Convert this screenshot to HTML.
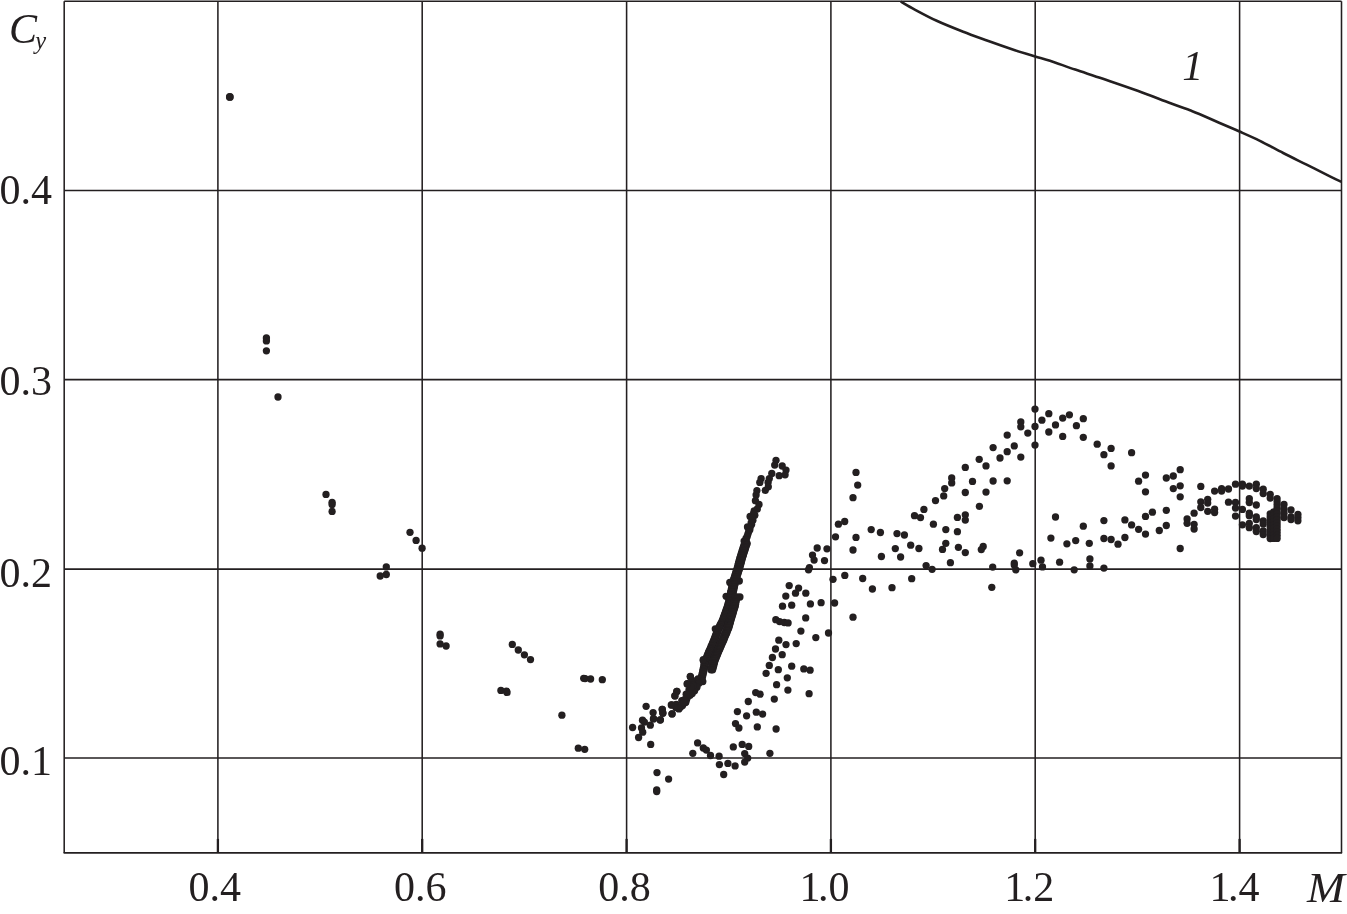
<!DOCTYPE html>
<html lang="en"><head><meta charset="utf-8"><title>Cy vs M</title>
<style>html,body{margin:0;padding:0;background:#fff}svg{display:block}</style></head>
<body>
<svg width="1347" height="914" viewBox="0 0 1347 914">
<rect width="1347" height="914" fill="#fff"/>
<g stroke="#231f20" stroke-width="1.55" fill="none">
<line x1="217.9" y1="1.2" x2="217.9" y2="852.9"/>
<line x1="422.2" y1="1.2" x2="422.2" y2="852.9"/>
<line x1="626.6" y1="1.2" x2="626.6" y2="852.9"/>
<line x1="830.9" y1="1.2" x2="830.9" y2="852.9"/>
<line x1="1035.2" y1="1.2" x2="1035.2" y2="852.9"/>
<line x1="1239.6" y1="1.2" x2="1239.6" y2="852.9"/>
<line x1="64.2" y1="190.4" x2="1341.5" y2="190.4"/>
<line x1="64.2" y1="379.6" x2="1341.5" y2="379.6"/>
<line x1="64.2" y1="569.1" x2="1341.5" y2="569.1"/>
<line x1="64.2" y1="757.9" x2="1341.5" y2="757.9"/>
<line x1="64.2" y1="1.2" x2="64.2" y2="852.9"/><line x1="1341.5" y1="1.2" x2="1341.5" y2="852.9"/><line x1="64.2" y1="1.2" x2="1341.5" y2="1.2"/>
</g>
<line x1="63.6" y1="852.9" x2="1342.1" y2="852.9" stroke="#231f20" stroke-width="1.9"/>
<g stroke="#231f20" stroke-width="2.3">
<line x1="217.9" y1="838.9" x2="217.9" y2="852.9"/>
<line x1="422.2" y1="838.9" x2="422.2" y2="852.9"/>
<line x1="626.6" y1="838.9" x2="626.6" y2="852.9"/>
<line x1="830.9" y1="838.9" x2="830.9" y2="852.9"/>
<line x1="1035.2" y1="838.9" x2="1035.2" y2="852.9"/>
<line x1="1239.6" y1="838.9" x2="1239.6" y2="852.9"/>
</g>
<path d="M900.7 1.5 C903.1 2.9 909.2 6.6 915.2 9.8 C921.2 13.0 928.7 17.1 936.7 20.8 C944.7 24.5 954.6 28.4 963.2 31.8 C971.8 35.2 979.8 37.9 988.4 41.0 C997.0 44.1 1007.1 47.6 1014.9 50.2 C1022.7 52.8 1029.2 54.6 1035.1 56.4 C1040.9 58.1 1043.3 58.5 1050.0 60.7 C1056.7 62.9 1066.4 66.6 1075.2 69.6 C1084.0 72.6 1092.5 75.2 1103.0 78.8 C1113.5 82.4 1127.1 87.0 1138.3 91.0 C1149.5 95.0 1161.3 99.8 1169.9 103.0 C1178.5 106.2 1185.1 108.5 1190.0 110.3 C1194.9 112.1 1194.5 111.9 1199.3 114.0 C1204.1 116.1 1212.4 119.8 1219.1 122.7 C1225.8 125.6 1232.7 128.5 1239.5 131.5 C1246.3 134.5 1252.6 137.2 1259.9 140.8 C1267.2 144.4 1275.4 149.0 1283.2 153.0 C1291.0 157.0 1298.8 160.8 1306.6 164.7 C1314.4 168.6 1324.1 173.4 1329.9 176.3 C1335.7 179.2 1339.6 181.0 1341.5 181.9" fill="none" stroke="#231f20" stroke-width="2.6" stroke-linecap="butt"/>
<g fill="#231f20">
<circle cx="229.8" cy="97.0" r="3.65"/>
<circle cx="266.4" cy="337.9" r="3.65"/>
<circle cx="266.4" cy="340.9" r="3.65"/>
<circle cx="266.4" cy="350.8" r="3.65"/>
<circle cx="278.0" cy="397.0" r="3.65"/>
<circle cx="326.0" cy="494.4" r="3.65"/>
<circle cx="332.1" cy="502.3" r="3.65"/>
<circle cx="332.1" cy="504.5" r="3.65"/>
<circle cx="332.1" cy="511.4" r="3.65"/>
<circle cx="410.0" cy="532.3" r="3.65"/>
<circle cx="416.1" cy="540.4" r="3.65"/>
<circle cx="422.1" cy="548.2" r="3.65"/>
<circle cx="386.3" cy="566.9" r="3.65"/>
<circle cx="386.3" cy="574.5" r="3.65"/>
<circle cx="380.2" cy="576.0" r="3.65"/>
<circle cx="440.1" cy="634.1" r="3.65"/>
<circle cx="440.1" cy="635.9" r="3.65"/>
<circle cx="440.1" cy="643.9" r="3.65"/>
<circle cx="446.1" cy="646.0" r="3.65"/>
<circle cx="512.3" cy="644.4" r="3.65"/>
<circle cx="518.3" cy="650.0" r="3.65"/>
<circle cx="524.4" cy="654.8" r="3.65"/>
<circle cx="530.5" cy="659.6" r="3.65"/>
<circle cx="500.9" cy="690.4" r="3.65"/>
<circle cx="506.5" cy="691.2" r="3.65"/>
<circle cx="507.0" cy="692.4" r="3.65"/>
<circle cx="583.7" cy="678.3" r="3.65"/>
<circle cx="585.1" cy="678.6" r="3.65"/>
<circle cx="590.6" cy="679.0" r="3.65"/>
<circle cx="602.3" cy="679.7" r="3.65"/>
<circle cx="561.9" cy="715.2" r="3.65"/>
<circle cx="578.3" cy="748.2" r="3.65"/>
<circle cx="584.7" cy="749.3" r="3.65"/>
<circle cx="646.1" cy="706.3" r="3.65"/>
<circle cx="653.1" cy="712.6" r="3.65"/>
<circle cx="662.3" cy="709.5" r="3.65"/>
<circle cx="662.9" cy="713.3" r="3.65"/>
<circle cx="653.4" cy="718.9" r="3.65"/>
<circle cx="660.4" cy="719.8" r="3.65"/>
<circle cx="642.5" cy="720.2" r="3.65"/>
<circle cx="644.4" cy="722.1" r="3.65"/>
<circle cx="650.3" cy="725.2" r="3.65"/>
<circle cx="632.6" cy="727.5" r="3.65"/>
<circle cx="641.5" cy="728.0" r="3.65"/>
<circle cx="642.7" cy="732.2" r="3.65"/>
<circle cx="638.6" cy="737.5" r="3.65"/>
<circle cx="650.7" cy="744.4" r="3.65"/>
<circle cx="671.7" cy="705.0" r="3.65"/>
<circle cx="672.1" cy="713.9" r="3.65"/>
<circle cx="678.7" cy="708.2" r="3.65"/>
<circle cx="676.2" cy="704.4" r="3.65"/>
<circle cx="685.0" cy="702.5" r="3.65"/>
<circle cx="681.8" cy="700.6" r="3.65"/>
<circle cx="657.0" cy="772.6" r="3.65"/>
<circle cx="668.6" cy="779.1" r="3.65"/>
<circle cx="656.7" cy="789.9" r="3.65"/>
<circle cx="656.7" cy="791.5" r="3.65"/>
<circle cx="697.6" cy="742.9" r="3.65"/>
<circle cx="692.8" cy="753.3" r="3.65"/>
<circle cx="703.3" cy="748.0" r="3.65"/>
<circle cx="706.4" cy="750.1" r="3.65"/>
<circle cx="710.5" cy="755.5" r="3.65"/>
<circle cx="719.1" cy="756.2" r="3.65"/>
<circle cx="719.4" cy="764.6" r="3.65"/>
<circle cx="727.9" cy="763.4" r="3.65"/>
<circle cx="723.7" cy="774.5" r="3.65"/>
<circle cx="735.1" cy="765.9" r="3.65"/>
<circle cx="733.3" cy="746.9" r="3.65"/>
<circle cx="742.2" cy="744.4" r="3.65"/>
<circle cx="748.7" cy="746.4" r="3.65"/>
<circle cx="744.7" cy="753.6" r="3.65"/>
<circle cx="747.7" cy="758.1" r="3.65"/>
<circle cx="744.7" cy="762.1" r="3.65"/>
<circle cx="769.9" cy="753.3" r="3.65"/>
<circle cx="748.3" cy="701.5" r="3.65"/>
<circle cx="737.4" cy="711.6" r="3.65"/>
<circle cx="746.6" cy="715.8" r="3.65"/>
<circle cx="756.3" cy="712.2" r="3.65"/>
<circle cx="762.6" cy="714.1" r="3.65"/>
<circle cx="735.5" cy="723.6" r="3.65"/>
<circle cx="738.9" cy="728.0" r="3.65"/>
<circle cx="757.3" cy="726.9" r="3.65"/>
<circle cx="776.1" cy="729.0" r="3.65"/>
<circle cx="676.8" cy="691.3" r="3.65"/>
<circle cx="674.9" cy="695.7" r="3.65"/>
<circle cx="687.5" cy="683.7" r="3.65"/>
<circle cx="690.4" cy="676.8" r="3.65"/>
<circle cx="703.3" cy="660.4" r="3.65"/>
<circle cx="715.3" cy="628.8" r="3.65"/>
<circle cx="739.3" cy="581.0" r="3.65"/>
<circle cx="739.9" cy="597.0" r="3.65"/>
<circle cx="729.8" cy="582.5" r="3.65"/>
<circle cx="726.1" cy="596.3" r="3.65"/>
<circle cx="778.8" cy="640.2" r="3.65"/>
<circle cx="786.0" cy="644.6" r="3.65"/>
<circle cx="775.5" cy="649.0" r="3.65"/>
<circle cx="782.2" cy="654.7" r="3.65"/>
<circle cx="772.4" cy="657.5" r="3.65"/>
<circle cx="769.3" cy="665.4" r="3.65"/>
<circle cx="778.3" cy="669.7" r="3.65"/>
<circle cx="766.1" cy="673.3" r="3.65"/>
<circle cx="787.3" cy="677.8" r="3.65"/>
<circle cx="776.6" cy="684.7" r="3.65"/>
<circle cx="787.9" cy="690.1" r="3.65"/>
<circle cx="755.7" cy="692.6" r="3.65"/>
<circle cx="760.1" cy="694.2" r="3.65"/>
<circle cx="774.3" cy="699.1" r="3.65"/>
<circle cx="838.4" cy="524.2" r="3.65"/>
<circle cx="844.7" cy="521.5" r="3.65"/>
<circle cx="835.5" cy="536.8" r="3.65"/>
<circle cx="817.2" cy="548.0" r="3.65"/>
<circle cx="827.0" cy="548.8" r="3.65"/>
<circle cx="812.5" cy="555.1" r="3.65"/>
<circle cx="814.1" cy="560.1" r="3.65"/>
<circle cx="824.5" cy="560.6" r="3.65"/>
<circle cx="809.4" cy="567.7" r="3.65"/>
<circle cx="808.5" cy="569.8" r="3.65"/>
<circle cx="844.8" cy="575.4" r="3.65"/>
<circle cx="833.0" cy="579.3" r="3.65"/>
<circle cx="789.2" cy="585.6" r="3.65"/>
<circle cx="798.6" cy="588.1" r="3.65"/>
<circle cx="795.5" cy="593.2" r="3.65"/>
<circle cx="805.8" cy="593.2" r="3.65"/>
<circle cx="785.8" cy="596.1" r="3.65"/>
<circle cx="810.4" cy="603.9" r="3.65"/>
<circle cx="821.1" cy="602.7" r="3.65"/>
<circle cx="834.6" cy="603.0" r="3.65"/>
<circle cx="782.5" cy="606.2" r="3.65"/>
<circle cx="791.7" cy="605.2" r="3.65"/>
<circle cx="805.7" cy="617.9" r="3.65"/>
<circle cx="853.0" cy="617.2" r="3.65"/>
<circle cx="775.8" cy="619.7" r="3.65"/>
<circle cx="779.6" cy="621.6" r="3.65"/>
<circle cx="784.3" cy="622.5" r="3.65"/>
<circle cx="788.1" cy="622.9" r="3.65"/>
<circle cx="800.9" cy="631.1" r="3.65"/>
<circle cx="828.5" cy="633.0" r="3.65"/>
<circle cx="815.8" cy="637.6" r="3.65"/>
<circle cx="796.2" cy="643.6" r="3.65"/>
<circle cx="791.7" cy="666.2" r="3.65"/>
<circle cx="803.8" cy="668.9" r="3.65"/>
<circle cx="810.1" cy="670.2" r="3.65"/>
<circle cx="809.1" cy="693.7" r="3.65"/>
<circle cx="776.0" cy="460.3" r="3.65"/>
<circle cx="774.7" cy="465.1" r="3.65"/>
<circle cx="782.2" cy="466.0" r="3.65"/>
<circle cx="786.0" cy="470.1" r="3.65"/>
<circle cx="785.1" cy="474.8" r="3.65"/>
<circle cx="779.2" cy="475.7" r="3.65"/>
<circle cx="771.8" cy="473.5" r="3.65"/>
<circle cx="769.3" cy="478.6" r="3.65"/>
<circle cx="768.1" cy="482.4" r="3.65"/>
<circle cx="768.3" cy="486.8" r="3.65"/>
<circle cx="765.3" cy="490.3" r="3.65"/>
<circle cx="761.1" cy="478.6" r="3.65"/>
<circle cx="759.8" cy="482.4" r="3.65"/>
<circle cx="756.9" cy="490.6" r="3.65"/>
<circle cx="756.1" cy="495.0" r="3.65"/>
<circle cx="755.4" cy="500.7" r="3.65"/>
<circle cx="759.0" cy="504.5" r="3.65"/>
<circle cx="757.3" cy="508.9" r="3.65"/>
<circle cx="754.2" cy="510.8" r="3.65"/>
<circle cx="754.8" cy="515.2" r="3.65"/>
<circle cx="750.1" cy="516.4" r="3.65"/>
<circle cx="752.9" cy="520.2" r="3.65"/>
<circle cx="751.6" cy="524.6" r="3.65"/>
<circle cx="747.5" cy="526.9" r="3.65"/>
<circle cx="749.8" cy="529.7" r="3.65"/>
<circle cx="747.9" cy="534.1" r="3.65"/>
<circle cx="746.0" cy="538.5" r="3.65"/>
<circle cx="744.1" cy="541.1" r="3.65"/>
<circle cx="745.3" cy="543.6" r="3.65"/>
<circle cx="753.6" cy="513.5" r="3.65"/>
<circle cx="752.4" cy="518.2" r="3.65"/>
<circle cx="751.2" cy="522.6" r="3.65"/>
<circle cx="750.0" cy="527.3" r="3.65"/>
<circle cx="748.6" cy="531.8" r="3.65"/>
<circle cx="747.2" cy="536.4" r="3.65"/>
<circle cx="746.2" cy="540.2" r="3.65"/>
<circle cx="856.0" cy="472.4" r="3.65"/>
<circle cx="857.7" cy="485.1" r="3.65"/>
<circle cx="853.0" cy="497.7" r="3.65"/>
<circle cx="856.0" cy="537.4" r="3.65"/>
<circle cx="853.0" cy="550.0" r="3.65"/>
<circle cx="871.2" cy="529.6" r="3.65"/>
<circle cx="880.4" cy="532.5" r="3.65"/>
<circle cx="897.0" cy="533.6" r="3.65"/>
<circle cx="904.4" cy="535.0" r="3.65"/>
<circle cx="895.3" cy="548.6" r="3.65"/>
<circle cx="910.7" cy="545.2" r="3.65"/>
<circle cx="918.9" cy="548.5" r="3.65"/>
<circle cx="881.4" cy="556.5" r="3.65"/>
<circle cx="900.6" cy="557.0" r="3.65"/>
<circle cx="914.5" cy="515.7" r="3.65"/>
<circle cx="920.5" cy="517.6" r="3.65"/>
<circle cx="923.9" cy="509.4" r="3.65"/>
<circle cx="933.4" cy="524.2" r="3.65"/>
<circle cx="935.5" cy="500.6" r="3.65"/>
<circle cx="943.7" cy="495.9" r="3.65"/>
<circle cx="944.7" cy="488.6" r="3.65"/>
<circle cx="951.7" cy="477.9" r="3.65"/>
<circle cx="951.7" cy="482.9" r="3.65"/>
<circle cx="965.3" cy="467.4" r="3.65"/>
<circle cx="972.5" cy="481.4" r="3.65"/>
<circle cx="965.3" cy="492.5" r="3.65"/>
<circle cx="979.2" cy="459.3" r="3.65"/>
<circle cx="986.0" cy="465.9" r="3.65"/>
<circle cx="993.1" cy="447.6" r="3.65"/>
<circle cx="1000.0" cy="458.0" r="3.65"/>
<circle cx="1007.2" cy="451.7" r="3.65"/>
<circle cx="993.1" cy="481.0" r="3.65"/>
<circle cx="1007.2" cy="480.8" r="3.65"/>
<circle cx="986.0" cy="492.1" r="3.65"/>
<circle cx="979.4" cy="506.3" r="3.65"/>
<circle cx="965.3" cy="514.8" r="3.65"/>
<circle cx="965.3" cy="520.1" r="3.65"/>
<circle cx="957.4" cy="517.4" r="3.65"/>
<circle cx="945.8" cy="529.6" r="3.65"/>
<circle cx="957.4" cy="531.7" r="3.65"/>
<circle cx="945.8" cy="543.3" r="3.65"/>
<circle cx="942.5" cy="549.4" r="3.65"/>
<circle cx="958.4" cy="547.3" r="3.65"/>
<circle cx="965.3" cy="552.6" r="3.65"/>
<circle cx="983.2" cy="546.4" r="3.65"/>
<circle cx="981.3" cy="549.6" r="3.65"/>
<circle cx="950.4" cy="562.7" r="3.65"/>
<circle cx="926.1" cy="565.6" r="3.65"/>
<circle cx="932.1" cy="569.3" r="3.65"/>
<circle cx="992.7" cy="567.1" r="3.65"/>
<circle cx="862.7" cy="578.5" r="3.65"/>
<circle cx="872.4" cy="589.0" r="3.65"/>
<circle cx="892.0" cy="587.7" r="3.65"/>
<circle cx="911.7" cy="578.7" r="3.65"/>
<circle cx="991.8" cy="587.3" r="3.65"/>
<circle cx="1035.0" cy="409.1" r="3.65"/>
<circle cx="1035.0" cy="426.5" r="3.65"/>
<circle cx="1035.0" cy="445.1" r="3.65"/>
<circle cx="1048.8" cy="413.7" r="3.65"/>
<circle cx="1041.9" cy="420.2" r="3.65"/>
<circle cx="1020.8" cy="421.9" r="3.65"/>
<circle cx="1020.8" cy="426.8" r="3.65"/>
<circle cx="1027.8" cy="433.1" r="3.65"/>
<circle cx="1007.2" cy="435.1" r="3.65"/>
<circle cx="1014.3" cy="445.9" r="3.65"/>
<circle cx="1020.8" cy="457.1" r="3.65"/>
<circle cx="1055.5" cy="424.9" r="3.65"/>
<circle cx="1048.8" cy="432.0" r="3.65"/>
<circle cx="1062.7" cy="418.1" r="3.65"/>
<circle cx="1069.4" cy="414.8" r="3.65"/>
<circle cx="1062.7" cy="436.4" r="3.65"/>
<circle cx="1076.4" cy="425.7" r="3.65"/>
<circle cx="1083.3" cy="418.7" r="3.65"/>
<circle cx="1083.3" cy="437.3" r="3.65"/>
<circle cx="1097.2" cy="444.2" r="3.65"/>
<circle cx="1111.1" cy="448.4" r="3.65"/>
<circle cx="1103.9" cy="454.7" r="3.65"/>
<circle cx="1111.1" cy="465.9" r="3.65"/>
<circle cx="1131.6" cy="452.7" r="3.65"/>
<circle cx="1145.5" cy="475.1" r="3.65"/>
<circle cx="1138.6" cy="481.2" r="3.65"/>
<circle cx="1145.5" cy="491.8" r="3.65"/>
<circle cx="1166.3" cy="478.0" r="3.65"/>
<circle cx="1173.3" cy="476.0" r="3.65"/>
<circle cx="1173.3" cy="488.6" r="3.65"/>
<circle cx="1055.5" cy="517.0" r="3.65"/>
<circle cx="1050.9" cy="538.1" r="3.65"/>
<circle cx="1019.6" cy="552.8" r="3.65"/>
<circle cx="1014.3" cy="563.1" r="3.65"/>
<circle cx="1014.3" cy="565.0" r="3.65"/>
<circle cx="1015.8" cy="569.8" r="3.65"/>
<circle cx="1032.8" cy="563.7" r="3.65"/>
<circle cx="1041.0" cy="560.2" r="3.65"/>
<circle cx="1042.5" cy="566.9" r="3.65"/>
<circle cx="1059.6" cy="562.2" r="3.65"/>
<circle cx="1074.2" cy="569.8" r="3.65"/>
<circle cx="1089.9" cy="558.9" r="3.65"/>
<circle cx="1089.9" cy="565.9" r="3.65"/>
<circle cx="1103.9" cy="568.1" r="3.65"/>
<circle cx="1066.9" cy="543.8" r="3.65"/>
<circle cx="1075.7" cy="540.6" r="3.65"/>
<circle cx="1083.3" cy="526.2" r="3.65"/>
<circle cx="1089.3" cy="543.3" r="3.65"/>
<circle cx="1103.9" cy="520.6" r="3.65"/>
<circle cx="1103.9" cy="538.5" r="3.65"/>
<circle cx="1111.1" cy="539.5" r="3.65"/>
<circle cx="1118.0" cy="544.2" r="3.65"/>
<circle cx="1124.9" cy="537.5" r="3.65"/>
<circle cx="1124.9" cy="519.9" r="3.65"/>
<circle cx="1131.6" cy="524.9" r="3.65"/>
<circle cx="1138.6" cy="529.3" r="3.65"/>
<circle cx="1145.5" cy="534.1" r="3.65"/>
<circle cx="1145.5" cy="516.4" r="3.65"/>
<circle cx="1152.4" cy="512.2" r="3.65"/>
<circle cx="1159.3" cy="530.5" r="3.65"/>
<circle cx="1166.3" cy="510.3" r="3.65"/>
<circle cx="1166.3" cy="525.5" r="3.65"/>
<circle cx="1180.2" cy="469.7" r="3.65"/>
<circle cx="1180.2" cy="485.8" r="3.65"/>
<circle cx="1180.2" cy="496.8" r="3.65"/>
<circle cx="1180.2" cy="548.5" r="3.65"/>
<circle cx="1187.1" cy="518.9" r="3.65"/>
<circle cx="1187.1" cy="523.3" r="3.65"/>
<circle cx="1194.1" cy="513.2" r="3.65"/>
<circle cx="1194.1" cy="524.3" r="3.65"/>
<circle cx="1194.1" cy="529.0" r="3.65"/>
<circle cx="1200.8" cy="486.4" r="3.65"/>
<circle cx="1200.8" cy="501.8" r="3.65"/>
<circle cx="1200.8" cy="507.5" r="3.65"/>
<circle cx="1207.7" cy="499.3" r="3.65"/>
<circle cx="1207.7" cy="503.1" r="3.65"/>
<circle cx="1207.7" cy="511.3" r="3.65"/>
<circle cx="1214.6" cy="491.1" r="3.65"/>
<circle cx="1214.6" cy="509.2" r="3.65"/>
<circle cx="1214.6" cy="512.6" r="3.65"/>
<circle cx="1221.6" cy="488.6" r="3.65"/>
<circle cx="1221.6" cy="491.1" r="3.65"/>
<circle cx="1228.5" cy="489.0" r="3.65"/>
<circle cx="1228.5" cy="502.2" r="3.65"/>
<circle cx="1235.5" cy="484.2" r="3.65"/>
<circle cx="1235.5" cy="502.5" r="3.65"/>
<circle cx="1235.5" cy="508.1" r="3.65"/>
<circle cx="1235.5" cy="516.1" r="3.65"/>
<circle cx="1242.4" cy="484.2" r="3.65"/>
<circle cx="1242.4" cy="486.0" r="3.65"/>
<circle cx="1242.4" cy="509.4" r="3.65"/>
<circle cx="1242.4" cy="524.8" r="3.65"/>
<circle cx="1249.3" cy="486.1" r="3.65"/>
<circle cx="1249.3" cy="498.7" r="3.65"/>
<circle cx="1249.3" cy="502.5" r="3.65"/>
<circle cx="1249.3" cy="513.2" r="3.65"/>
<circle cx="1249.3" cy="515.7" r="3.65"/>
<circle cx="1249.3" cy="523.3" r="3.65"/>
<circle cx="1249.3" cy="527.7" r="3.65"/>
<circle cx="1256.3" cy="484.2" r="3.65"/>
<circle cx="1256.3" cy="488.6" r="3.65"/>
<circle cx="1256.3" cy="505.0" r="3.65"/>
<circle cx="1256.3" cy="517.0" r="3.65"/>
<circle cx="1256.3" cy="519.5" r="3.65"/>
<circle cx="1256.3" cy="527.7" r="3.65"/>
<circle cx="1256.3" cy="531.5" r="3.65"/>
<circle cx="1263.2" cy="489.2" r="3.65"/>
<circle cx="1263.2" cy="493.6" r="3.65"/>
<circle cx="1263.2" cy="520.8" r="3.65"/>
<circle cx="1263.2" cy="523.9" r="3.65"/>
<circle cx="1263.2" cy="530.9" r="3.65"/>
<circle cx="1263.2" cy="534.6" r="3.65"/>
<circle cx="1270.2" cy="494.3" r="3.65"/>
<circle cx="1270.2" cy="498.1" r="3.65"/>
<circle cx="1270.2" cy="513.8" r="3.65"/>
<circle cx="1270.2" cy="516.9" r="3.65"/>
<circle cx="1270.2" cy="520.0" r="3.65"/>
<circle cx="1270.2" cy="523.1" r="3.65"/>
<circle cx="1270.2" cy="526.2" r="3.65"/>
<circle cx="1270.2" cy="529.3" r="3.65"/>
<circle cx="1270.2" cy="532.4" r="3.65"/>
<circle cx="1270.2" cy="535.5" r="3.65"/>
<circle cx="1270.2" cy="538.6" r="3.65"/>
<circle cx="1273.6" cy="512.0" r="3.65"/>
<circle cx="1273.6" cy="515.3" r="3.65"/>
<circle cx="1273.6" cy="518.6" r="3.65"/>
<circle cx="1273.6" cy="521.9" r="3.65"/>
<circle cx="1273.6" cy="525.2" r="3.65"/>
<circle cx="1273.6" cy="528.5" r="3.65"/>
<circle cx="1273.6" cy="531.8" r="3.65"/>
<circle cx="1273.6" cy="535.1" r="3.65"/>
<circle cx="1273.6" cy="538.4" r="3.65"/>
<circle cx="1277.1" cy="498.7" r="3.65"/>
<circle cx="1277.1" cy="501.8" r="3.65"/>
<circle cx="1277.1" cy="504.8" r="3.65"/>
<circle cx="1277.1" cy="507.8" r="3.65"/>
<circle cx="1277.1" cy="510.9" r="3.65"/>
<circle cx="1277.1" cy="514.0" r="3.65"/>
<circle cx="1277.1" cy="517.0" r="3.65"/>
<circle cx="1277.1" cy="520.0" r="3.65"/>
<circle cx="1277.1" cy="523.1" r="3.65"/>
<circle cx="1277.1" cy="526.1" r="3.65"/>
<circle cx="1277.1" cy="529.2" r="3.65"/>
<circle cx="1277.1" cy="532.2" r="3.65"/>
<circle cx="1277.1" cy="535.3" r="3.65"/>
<circle cx="1277.1" cy="538.4" r="3.65"/>
<circle cx="1284.0" cy="504.4" r="3.65"/>
<circle cx="1284.0" cy="508.8" r="3.65"/>
<circle cx="1284.0" cy="513.2" r="3.65"/>
<circle cx="1284.0" cy="517.6" r="3.65"/>
<circle cx="1291.0" cy="510.0" r="3.65"/>
<circle cx="1291.0" cy="517.0" r="3.65"/>
<circle cx="1291.0" cy="519.5" r="3.65"/>
<circle cx="1297.9" cy="514.5" r="3.65"/>
<circle cx="1297.9" cy="517.6" r="3.65"/>
<circle cx="1297.9" cy="520.8" r="3.65"/>
<circle cx="744.8" cy="543.6" r="3.65"/>
<circle cx="747.2" cy="543.6" r="3.65"/>
<circle cx="744.0" cy="545.2" r="3.65"/>
<circle cx="746.4" cy="545.2" r="3.65"/>
<circle cx="743.5" cy="546.8" r="3.65"/>
<circle cx="745.9" cy="546.8" r="3.65"/>
<circle cx="743.0" cy="548.4" r="3.65"/>
<circle cx="745.4" cy="548.4" r="3.65"/>
<circle cx="742.5" cy="550.0" r="3.65"/>
<circle cx="744.9" cy="550.0" r="3.65"/>
<circle cx="742.0" cy="551.5" r="3.65"/>
<circle cx="744.4" cy="551.5" r="3.65"/>
<circle cx="741.5" cy="553.1" r="3.65"/>
<circle cx="743.9" cy="553.1" r="3.65"/>
<circle cx="741.0" cy="554.7" r="3.65"/>
<circle cx="743.4" cy="554.7" r="3.65"/>
<circle cx="740.5" cy="556.3" r="3.65"/>
<circle cx="742.9" cy="556.3" r="3.65"/>
<circle cx="740.0" cy="557.9" r="3.65"/>
<circle cx="742.4" cy="557.9" r="3.65"/>
<circle cx="739.5" cy="559.7" r="3.65"/>
<circle cx="741.9" cy="559.7" r="3.65"/>
<circle cx="739.0" cy="561.5" r="3.65"/>
<circle cx="741.4" cy="561.5" r="3.65"/>
<circle cx="738.5" cy="563.2" r="3.65"/>
<circle cx="741.0" cy="563.2" r="3.65"/>
<circle cx="738.1" cy="565.0" r="3.65"/>
<circle cx="740.5" cy="565.0" r="3.65"/>
<circle cx="737.6" cy="566.8" r="3.65"/>
<circle cx="740.0" cy="566.8" r="3.65"/>
<circle cx="737.1" cy="568.6" r="3.65"/>
<circle cx="739.5" cy="568.6" r="3.65"/>
<circle cx="736.6" cy="570.3" r="3.65"/>
<circle cx="739.0" cy="570.3" r="3.65"/>
<circle cx="736.0" cy="572.0" r="3.65"/>
<circle cx="738.4" cy="572.0" r="3.65"/>
<circle cx="735.5" cy="573.7" r="3.65"/>
<circle cx="737.9" cy="573.7" r="3.65"/>
<circle cx="734.9" cy="575.5" r="3.65"/>
<circle cx="737.3" cy="575.5" r="3.65"/>
<circle cx="734.4" cy="577.2" r="3.65"/>
<circle cx="736.8" cy="577.2" r="3.65"/>
<circle cx="733.8" cy="578.9" r="3.65"/>
<circle cx="736.2" cy="578.9" r="3.65"/>
<circle cx="733.3" cy="580.6" r="3.65"/>
<circle cx="735.7" cy="580.6" r="3.65"/>
<circle cx="732.9" cy="582.2" r="3.65"/>
<circle cx="735.3" cy="582.2" r="3.65"/>
<circle cx="732.6" cy="583.9" r="3.65"/>
<circle cx="735.0" cy="583.9" r="3.65"/>
<circle cx="732.2" cy="585.5" r="3.65"/>
<circle cx="734.6" cy="585.5" r="3.65"/>
<circle cx="731.9" cy="587.1" r="3.65"/>
<circle cx="734.3" cy="587.1" r="3.65"/>
<circle cx="731.5" cy="588.7" r="3.65"/>
<circle cx="733.9" cy="588.7" r="3.65"/>
<circle cx="731.2" cy="590.4" r="3.65"/>
<circle cx="733.6" cy="590.4" r="3.65"/>
<circle cx="730.8" cy="592.0" r="3.65"/>
<circle cx="733.2" cy="592.0" r="3.65"/>
<circle cx="731.1" cy="592.0" r="3.65"/>
<circle cx="731.9" cy="592.0" r="3.65"/>
<circle cx="730.7" cy="593.6" r="3.65"/>
<circle cx="731.5" cy="593.6" r="3.65"/>
<circle cx="730.3" cy="595.1" r="3.65"/>
<circle cx="731.1" cy="595.1" r="3.65"/>
<circle cx="729.9" cy="596.7" r="3.65"/>
<circle cx="730.7" cy="596.7" r="3.65"/>
<circle cx="729.5" cy="598.2" r="3.65"/>
<circle cx="730.3" cy="598.2" r="3.65"/>
<circle cx="729.2" cy="599.8" r="3.65"/>
<circle cx="730.0" cy="599.8" r="3.65"/>
<circle cx="728.8" cy="601.3" r="3.65"/>
<circle cx="729.6" cy="601.3" r="3.65"/>
<circle cx="728.4" cy="602.9" r="3.65"/>
<circle cx="729.2" cy="602.9" r="3.65"/>
<circle cx="728.0" cy="604.4" r="3.65"/>
<circle cx="728.8" cy="604.4" r="3.65"/>
<circle cx="727.6" cy="606.0" r="3.65"/>
<circle cx="728.4" cy="606.0" r="3.65"/>
<circle cx="727.0" cy="607.6" r="3.65"/>
<circle cx="727.8" cy="607.6" r="3.65"/>
<circle cx="726.5" cy="609.1" r="3.65"/>
<circle cx="727.3" cy="609.1" r="3.65"/>
<circle cx="725.9" cy="610.7" r="3.65"/>
<circle cx="726.7" cy="610.7" r="3.65"/>
<circle cx="725.4" cy="612.2" r="3.65"/>
<circle cx="726.2" cy="612.2" r="3.65"/>
<circle cx="724.8" cy="613.8" r="3.65"/>
<circle cx="725.6" cy="613.8" r="3.65"/>
<circle cx="724.3" cy="615.3" r="3.65"/>
<circle cx="725.1" cy="615.3" r="3.65"/>
<circle cx="723.7" cy="616.9" r="3.65"/>
<circle cx="724.5" cy="616.9" r="3.65"/>
<circle cx="723.2" cy="618.4" r="3.65"/>
<circle cx="724.0" cy="618.4" r="3.65"/>
<circle cx="722.6" cy="620.0" r="3.65"/>
<circle cx="723.4" cy="620.0" r="3.65"/>
<circle cx="721.8" cy="621.7" r="3.65"/>
<circle cx="722.6" cy="621.7" r="3.65"/>
<circle cx="720.9" cy="623.3" r="3.65"/>
<circle cx="721.7" cy="623.3" r="3.65"/>
<circle cx="720.1" cy="625.0" r="3.65"/>
<circle cx="720.9" cy="625.0" r="3.65"/>
<circle cx="719.3" cy="626.7" r="3.65"/>
<circle cx="720.1" cy="626.7" r="3.65"/>
<circle cx="718.4" cy="628.3" r="3.65"/>
<circle cx="719.2" cy="628.3" r="3.65"/>
<circle cx="717.6" cy="630.0" r="3.65"/>
<circle cx="718.4" cy="630.0" r="3.65"/>
<circle cx="717.0" cy="631.7" r="3.65"/>
<circle cx="717.8" cy="631.7" r="3.65"/>
<circle cx="716.4" cy="633.3" r="3.65"/>
<circle cx="717.2" cy="633.3" r="3.65"/>
<circle cx="715.8" cy="635.0" r="3.65"/>
<circle cx="716.5" cy="635.0" r="3.65"/>
<circle cx="715.1" cy="636.7" r="3.65"/>
<circle cx="715.9" cy="636.7" r="3.65"/>
<circle cx="714.5" cy="638.3" r="3.65"/>
<circle cx="715.3" cy="638.3" r="3.65"/>
<circle cx="713.9" cy="640.0" r="3.65"/>
<circle cx="714.7" cy="640.0" r="3.65"/>
<circle cx="713.2" cy="641.6" r="3.65"/>
<circle cx="714.0" cy="641.6" r="3.65"/>
<circle cx="712.6" cy="643.1" r="3.65"/>
<circle cx="713.4" cy="643.1" r="3.65"/>
<circle cx="711.9" cy="644.7" r="3.65"/>
<circle cx="712.7" cy="644.7" r="3.65"/>
<circle cx="711.2" cy="646.2" r="3.65"/>
<circle cx="712.0" cy="646.2" r="3.65"/>
<circle cx="710.6" cy="647.8" r="3.65"/>
<circle cx="711.4" cy="647.8" r="3.65"/>
<circle cx="709.9" cy="649.4" r="3.65"/>
<circle cx="710.7" cy="649.4" r="3.65"/>
<circle cx="709.2" cy="650.9" r="3.65"/>
<circle cx="710.0" cy="650.9" r="3.65"/>
<circle cx="708.5" cy="652.5" r="3.65"/>
<circle cx="709.3" cy="652.5" r="3.65"/>
<circle cx="707.9" cy="654.0" r="3.65"/>
<circle cx="708.7" cy="654.0" r="3.65"/>
<circle cx="707.2" cy="655.6" r="3.65"/>
<circle cx="708.0" cy="655.6" r="3.65"/>
<circle cx="706.6" cy="657.3" r="3.65"/>
<circle cx="707.4" cy="657.3" r="3.65"/>
<circle cx="706.0" cy="659.0" r="3.65"/>
<circle cx="706.8" cy="659.0" r="3.65"/>
<circle cx="705.5" cy="660.6" r="3.65"/>
<circle cx="706.3" cy="660.6" r="3.65"/>
<circle cx="704.9" cy="662.3" r="3.65"/>
<circle cx="705.7" cy="662.3" r="3.65"/>
<circle cx="704.3" cy="664.0" r="3.65"/>
<circle cx="705.1" cy="664.0" r="3.65"/>
<circle cx="704.2" cy="664.0" r="3.65"/>
<circle cx="705.2" cy="664.5" r="3.65"/>
<circle cx="703.7" cy="666.4" r="3.65"/>
<circle cx="704.7" cy="666.9" r="3.65"/>
<circle cx="703.2" cy="668.8" r="3.65"/>
<circle cx="704.2" cy="669.3" r="3.65"/>
<circle cx="702.7" cy="671.2" r="3.65"/>
<circle cx="703.7" cy="671.7" r="3.65"/>
<circle cx="702.1" cy="673.9" r="3.65"/>
<circle cx="703.1" cy="674.4" r="3.65"/>
<circle cx="701.5" cy="676.5" r="3.65"/>
<circle cx="702.5" cy="677.0" r="3.65"/>
<circle cx="700.8" cy="679.5" r="3.65"/>
<circle cx="698.0" cy="679.0" r="3.65"/>
<circle cx="695.5" cy="680.8" r="3.65"/>
<circle cx="702.8" cy="681.6" r="3.65"/>
<circle cx="702.2" cy="681.3" r="3.65"/>
<circle cx="698.9" cy="683.3" r="3.65"/>
<circle cx="696.9" cy="687.2" r="3.65"/>
<circle cx="694.6" cy="690.8" r="3.65"/>
<circle cx="692.2" cy="693.6" r="3.65"/>
<circle cx="690.0" cy="695.2" r="3.65"/>
<circle cx="687.7" cy="696.7" r="3.65"/>
<circle cx="686.6" cy="699.6" r="3.65"/>
<circle cx="685.8" cy="702.3" r="3.65"/>
<circle cx="682.5" cy="705.6" r="3.65"/>
<circle cx="678.9" cy="708.9" r="3.65"/>
<circle cx="675.9" cy="707.6" r="3.65"/>
<circle cx="672.0" cy="713.8" r="3.65"/>
<circle cx="660.2" cy="720.0" r="3.65"/>
<circle cx="691.7" cy="682.6" r="3.65"/>
<circle cx="693.2" cy="685.4" r="3.65"/>
<circle cx="689.0" cy="689.8" r="3.65"/>
<circle cx="691.0" cy="687.2" r="3.65"/>
<circle cx="684.5" cy="699.7" r="3.65"/>
<circle cx="686.2" cy="694.2" r="3.65"/>
<circle cx="671.3" cy="704.9" r="3.65"/>
<circle cx="662.2" cy="709.5" r="3.65"/>
<circle cx="662.8" cy="712.8" r="3.65"/>
<circle cx="653.6" cy="718.7" r="3.65"/>
<circle cx="687.1" cy="683.9" r="3.65"/>
<circle cx="676.9" cy="691.5" r="3.65"/>
<circle cx="674.9" cy="696.1" r="3.65"/>
<circle cx="690.3" cy="676.4" r="3.65"/>
<circle cx="703.3" cy="659.7" r="3.65"/>
<circle cx="680.5" cy="706.9" r="3.65"/>
<circle cx="683.9" cy="703.2" r="3.65"/>
<circle cx="735.2" cy="597.0" r="3.65"/>
<circle cx="736.8" cy="597.0" r="3.65"/>
<circle cx="734.9" cy="598.8" r="3.65"/>
<circle cx="736.5" cy="598.8" r="3.65"/>
<circle cx="734.6" cy="600.6" r="3.65"/>
<circle cx="736.2" cy="600.6" r="3.65"/>
<circle cx="734.2" cy="602.4" r="3.65"/>
<circle cx="735.8" cy="602.4" r="3.65"/>
<circle cx="733.9" cy="604.2" r="3.65"/>
<circle cx="735.5" cy="604.2" r="3.65"/>
<circle cx="733.6" cy="606.0" r="3.65"/>
<circle cx="735.2" cy="606.0" r="3.65"/>
<circle cx="733.1" cy="607.6" r="3.65"/>
<circle cx="734.7" cy="607.6" r="3.65"/>
<circle cx="732.6" cy="609.1" r="3.65"/>
<circle cx="734.2" cy="609.1" r="3.65"/>
<circle cx="732.1" cy="610.7" r="3.65"/>
<circle cx="733.7" cy="610.7" r="3.65"/>
<circle cx="731.7" cy="612.3" r="3.65"/>
<circle cx="733.3" cy="612.3" r="3.65"/>
<circle cx="731.2" cy="613.9" r="3.65"/>
<circle cx="732.8" cy="613.9" r="3.65"/>
<circle cx="730.7" cy="615.4" r="3.65"/>
<circle cx="732.3" cy="615.4" r="3.65"/>
<circle cx="730.2" cy="617.0" r="3.65"/>
<circle cx="731.8" cy="617.0" r="3.65"/>
<circle cx="729.8" cy="618.6" r="3.65"/>
<circle cx="731.4" cy="618.6" r="3.65"/>
<circle cx="729.3" cy="620.1" r="3.65"/>
<circle cx="730.9" cy="620.1" r="3.65"/>
<circle cx="728.9" cy="621.7" r="3.65"/>
<circle cx="730.5" cy="621.7" r="3.65"/>
<circle cx="728.4" cy="623.3" r="3.65"/>
<circle cx="730.0" cy="623.3" r="3.65"/>
<circle cx="728.0" cy="624.9" r="3.65"/>
<circle cx="729.6" cy="624.9" r="3.65"/>
<circle cx="727.5" cy="626.4" r="3.65"/>
<circle cx="729.1" cy="626.4" r="3.65"/>
<circle cx="727.1" cy="628.0" r="3.65"/>
<circle cx="728.7" cy="628.0" r="3.65"/>
<circle cx="726.4" cy="629.6" r="3.65"/>
<circle cx="728.0" cy="629.6" r="3.65"/>
<circle cx="725.8" cy="631.2" r="3.65"/>
<circle cx="727.3" cy="631.2" r="3.65"/>
<circle cx="725.1" cy="632.9" r="3.65"/>
<circle cx="726.7" cy="632.9" r="3.65"/>
<circle cx="724.4" cy="634.5" r="3.65"/>
<circle cx="726.0" cy="634.5" r="3.65"/>
<circle cx="723.7" cy="636.1" r="3.65"/>
<circle cx="725.3" cy="636.1" r="3.65"/>
<circle cx="723.1" cy="637.8" r="3.65"/>
<circle cx="724.6" cy="637.8" r="3.65"/>
<circle cx="722.4" cy="639.4" r="3.65"/>
<circle cx="724.0" cy="639.4" r="3.65"/>
<circle cx="721.7" cy="641.0" r="3.65"/>
<circle cx="723.3" cy="641.0" r="3.65"/>
<circle cx="721.0" cy="642.6" r="3.65"/>
<circle cx="722.6" cy="642.6" r="3.65"/>
<circle cx="720.3" cy="644.1" r="3.65"/>
<circle cx="721.9" cy="644.1" r="3.65"/>
<circle cx="719.6" cy="645.7" r="3.65"/>
<circle cx="721.2" cy="645.7" r="3.65"/>
<circle cx="718.9" cy="647.3" r="3.65"/>
<circle cx="720.5" cy="647.3" r="3.65"/>
<circle cx="718.2" cy="648.9" r="3.65"/>
<circle cx="719.8" cy="648.9" r="3.65"/>
<circle cx="717.5" cy="650.4" r="3.65"/>
<circle cx="719.1" cy="650.4" r="3.65"/>
<circle cx="716.8" cy="652.0" r="3.65"/>
<circle cx="718.4" cy="652.0" r="3.65"/>
<circle cx="716.2" cy="653.5" r="3.65"/>
<circle cx="717.8" cy="653.5" r="3.65"/>
<circle cx="715.6" cy="655.0" r="3.65"/>
<circle cx="717.2" cy="655.0" r="3.65"/>
<circle cx="715.0" cy="656.5" r="3.65"/>
<circle cx="716.6" cy="656.5" r="3.65"/>
<circle cx="714.4" cy="658.0" r="3.65"/>
<circle cx="716.0" cy="658.0" r="3.65"/>
<circle cx="713.8" cy="659.5" r="3.65"/>
<circle cx="715.4" cy="659.5" r="3.65"/>
<circle cx="713.2" cy="661.0" r="3.65"/>
<circle cx="714.8" cy="661.0" r="3.65"/>
<circle cx="712.8" cy="662.8" r="3.65"/>
<circle cx="714.4" cy="662.8" r="3.65"/>
<circle cx="712.3" cy="664.5" r="3.65"/>
<circle cx="713.9" cy="664.5" r="3.65"/>
<circle cx="711.9" cy="666.3" r="3.65"/>
<circle cx="713.5" cy="666.3" r="3.65"/>
<circle cx="711.4" cy="668.0" r="3.65"/>
<circle cx="713.0" cy="668.0" r="3.65"/>
<circle cx="711.0" cy="669.8" r="3.65"/>
<circle cx="712.6" cy="669.8" r="3.65"/>
<circle cx="229.85" cy="96.95" r="3.9"/>
</g>
<g fill="#231f20" font-family="'Liberation Serif', 'Times New Roman', serif" font-size="42" style="mix-blend-mode:multiply">
<text x="-0.4" y="203.9">0.4</text>
<text x="-0.4" y="395.0">0.3</text>
<text x="-0.4" y="586.8">0.2</text>
<text x="-0.4" y="774.8">0.1</text>
<text x="188.4" y="901">0.4</text>
<text x="393.9" y="901">0.6</text>
<text x="598.2" y="901">0.8</text>
<text x="799.5" y="901">1<tspan dx="-2.6">.0</tspan></text>
<text x="1004.3" y="901">1<tspan dx="-2.6">.2</tspan></text>
<text x="1209.5" y="901">1<tspan dx="-2.6">.4</tspan></text>
<text transform="translate(1307 901.6) scale(1.08 1)" font-style="italic">M</text>
<text x="1182.3" y="79.7" font-style="italic">1</text>
<text x="9" y="43.3" font-style="italic">C<tspan font-size="24.5" dx="-1.8" dy="5.2">y</tspan></text>
</g>
</svg>
</body></html>
